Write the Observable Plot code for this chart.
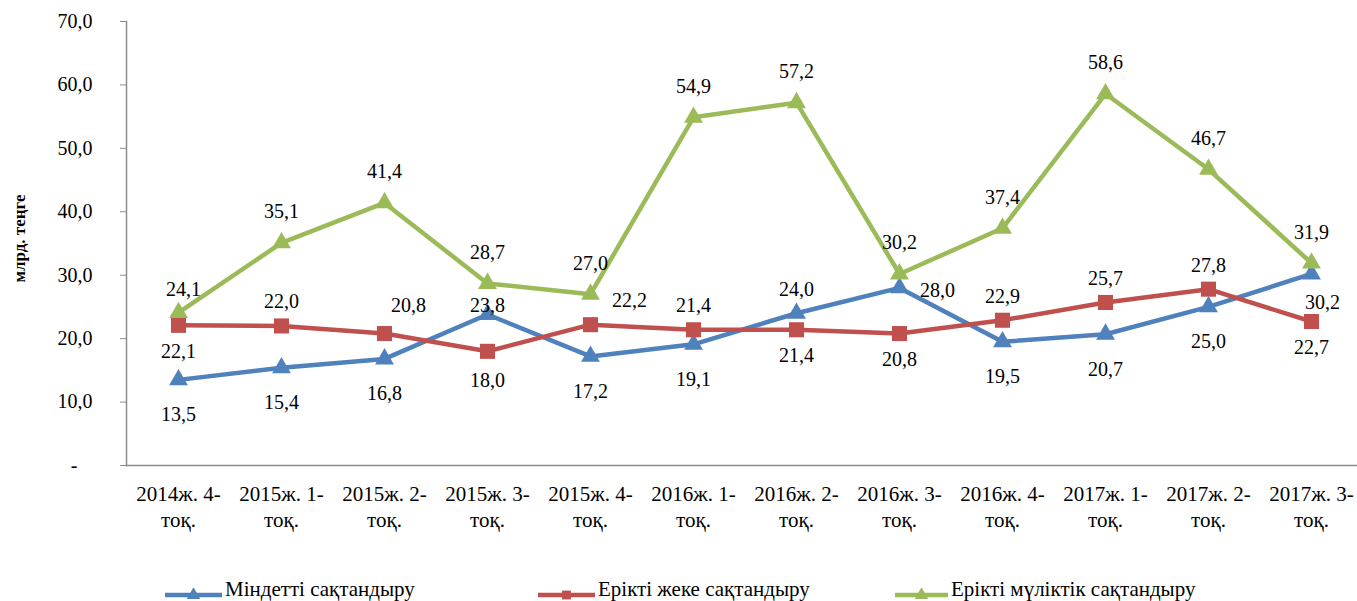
<!DOCTYPE html>
<html><head><meta charset="utf-8">
<script src="https://cdn.jsdelivr.net/npm/d3@7"></script>
<script src="https://cdn.jsdelivr.net/npm/@observablehq/plot@0.6"></script>
<style>
body{margin:0;background:#fff;overflow:hidden;font-family:"Liberation Serif","Times New Roman",serif;}
#legend{position:relative;height:24px;font-size:21px;color:#000;}
#legend .sw{position:absolute;top:11px;}
#legend .tx{position:absolute;top:0px;line-height:24px;white-space:nowrap;}
</style></head><body>
<div id="chart"></div>
<div id="legend"></div>
<script>
const categories = ["2014ж. 4-\nтоқ.","2015ж. 1-\nтоқ.","2015ж. 2-\nтоқ.","2015ж. 3-\nтоқ.","2015ж. 4-\nтоқ.","2016ж. 1-\nтоқ.","2016ж. 2-\nтоқ.","2016ж. 3-\nтоқ.","2016ж. 4-\nтоқ.","2017ж. 1-\nтоқ.","2017ж. 2-\nтоқ.","2017ж. 3-\nтоқ."];
const mandatory = [13.5,15.4,16.8,23.8,17.2,19.1,24.0,28.0,19.5,20.7,25.0,30.2];
const voluntaryPersonal = [22.1,22.0,20.8,18.0,22.2,21.4,21.4,20.8,22.9,25.7,27.8,22.7];
const voluntaryProperty = [24.1,35.1,41.4,28.7,27.0,54.9,57.2,30.2,37.4,58.6,46.7,31.9];
const seriesNames = ["Міндетті сақтандыру","Ерікті жеке сақтандыру","Ерікті мүліктік сақтандыру"];
const yTicks = [0,10,20,30,40,50,60,70];
const yTitle = "млрд. теңге";

// label placement codes (style, not data)
const placeMandatory = ["b","b","b","c","b","b","a","r","b","b","b","br"];
const placePersonal = ["rb","a","ar","rb2","ar2","a","rb","rb","a","a","a","rb"];
const placeProperty = ["g1","A","A","A","A","A","A","A","A","A","A","A"];
const offsets = {A:[0,-31], a:[0,-24], b:[0,35], rb:[0,26], rb2:[0,29], c:[0,-9], r:[38,3], br:[11,29], ar:[24,-28], ar2:[39,-24], g1:[5,-23]};

const colors = ["#4F81BD","#C0504D","#9BBB59"];
const symbols = ["triangle","square","triangle"];
const radii = [7,8.5,7];
const values = [mandatory, voluntaryPersonal, voluntaryProperty];
const places = [placeMandatory, placePersonal, placeProperty];

const fmt = v => v.toFixed(1).replace(".", ",");

const marks = [
  Plot.frame({anchor:"left", stroke:"#8c8c8c", strokeWidth:1.5}),
  Plot.frame({anchor:"bottom", stroke:"#8c8c8c", strokeWidth:1.5}),
  Plot.axisY({ticks:yTicks, tickSize:6, tickPadding:28, stroke:"#8c8c8c", fill:"#000", fontSize:20, label:null,
    tickFormat: d => d === 0 ? "-\u00a0\u00a0\u00a0" : fmt(d)}),
  Plot.axisX({tickSize:0, tickPadding:18, fill:"#000", fontSize:21, lineHeight:1.2, label:null}),
  Plot.text([yTitle], {text:d=>d, frameAnchor:"left", rotate:-90, textAnchor:"middle", dx:-107, dy:-5, fontWeight:"bold", fontSize:17, fill:"#000"})
];

const rowsAll = [];
values.forEach((vals, s) => {
  const rows = vals.map((v,i) => ({cat: categories[i], value: v, code: places[s][i]}));
  rowsAll.push(rows);
  marks.push(Plot.line(rows, {x:"cat", y:"value", stroke:colors[s], strokeWidth:4.5, strokeLinejoin:"round"}));
  marks.push(Plot.dot(rows, {x:"cat", y:"value", symbol:symbols[s], r:radii[s], fill:colors[s], stroke:"none"}));
});
rowsAll.forEach(rows => {
  const codes = Array.from(new Set(rows.map(d=>d.code)));
  codes.forEach(code => {
    const [dx, dy] = offsets[code];
    marks.push(Plot.text(rows.filter(d=>d.code===code), {x:"cat", y:"value", text:d=>fmt(d.value), dx, dy, fontSize:20, fill:"#000", textAnchor:"middle", lineAnchor:"middle"}));
  });
});

const chart = Plot.plot({
  width:1357, height:577,
  marginLeft:126, marginRight:0, marginTop:21, marginBottom:112,
  style:{fontFamily:'"Liberation Serif","Times New Roman",serif', fontSize:"20px", background:"#fff", overflow:"visible"},
  x:{type:"point", domain:categories, padding:0.5, range:[126, 1362]},
  y:{domain:[0,70]},
  marks
});
document.getElementById("chart").appendChild(chart);

// legend
const legendPos = [{sw:165, w:57, tx:225},{sw:538, w:57, tx:598},{sw:895, w:53, tx:951}];
const legend = document.getElementById("legend");
seriesNames.forEach((name, s) => {
  const p = legendPos[s];
  const ns = "http://www.w3.org/2000/svg";
  const svg = document.createElementNS(ns, "svg");
  svg.setAttribute("class","sw"); svg.setAttribute("width", p.w); svg.setAttribute("height", 14);
  svg.style.left = p.sw + "px";
  const line = document.createElementNS(ns, "line");
  line.setAttribute("x1",0); line.setAttribute("x2",p.w); line.setAttribute("y1",7); line.setAttribute("y2",7);
  line.setAttribute("stroke", colors[s]); line.setAttribute("stroke-width", 4.5); line.setAttribute("stroke-linecap","round");
  svg.appendChild(line);
  const sym = symbols[s] === "square" ? d3.symbolSquare : d3.symbolTriangle;
  const path = document.createElementNS(ns, "path");
  path.setAttribute("d", d3.symbol(sym, Math.PI*25)());
  path.setAttribute("transform", `translate(${p.w/2},7)`);
  path.setAttribute("fill", colors[s]);
  svg.appendChild(path);
  legend.appendChild(svg);
  const t = document.createElement("div");
  t.className = "tx"; t.style.left = p.tx + "px"; t.textContent = name;
  legend.appendChild(t);
});
</script>
</body></html>
